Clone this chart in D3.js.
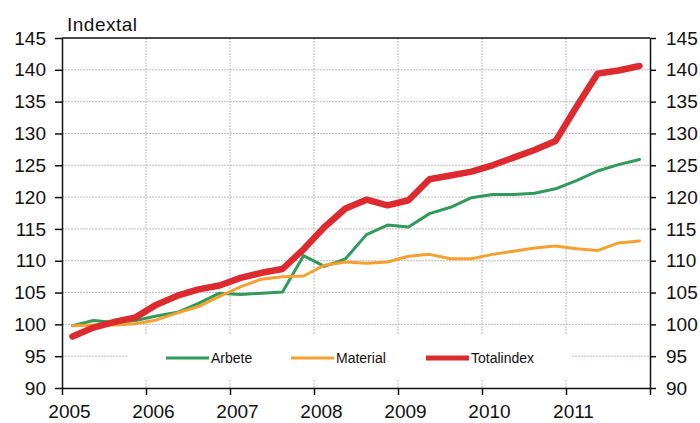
<!DOCTYPE html>
<html>
<head>
<meta charset="utf-8">
<script src="https://cdn.jsdelivr.net/npm/d3@7"></script>
<style>
  body { margin: 0; background: #fff; }
  text { font-family: "Liberation Sans", Arial, sans-serif; fill: #111; }
</style>
</head>
<body>
<div id="chart"></div>
<script>
// quarterly index values 2005Q1 .. 2011Q4
const years = [2005, 2006, 2007, 2008, 2009, 2010, 2011, 2012];
const yTicks = [90, 95, 100, 105, 110, 115, 120, 125, 130, 135, 140, 145];

const arbete = [99.8, 100.6, 100.3, 100.6, 101.3, 101.9, 103.3, 104.9,
                104.7, 104.9, 105.1, 110.8, 109.1, 110.3, 114.1, 115.6,
                115.3, 117.4, 118.4, 119.9, 120.4, 120.4, 120.6, 121.3,
                122.6, 124.1, 125.1, 125.9];
const material = [99.8, 99.9, 99.9, 100.1, 100.7, 101.8, 102.8, 104.4,
                  105.9, 107.1, 107.5, 107.6, 109.3, 109.8, 109.6, 109.8,
                  110.7, 111.0, 110.3, 110.3, 111.0, 111.5, 112.0, 112.3,
                  111.9, 111.6, 112.8, 113.1];
const totalindex = [98.1, 99.5, 100.4, 101.1, 103.1, 104.5, 105.5, 106.1,
                    107.3, 108.1, 108.7, 111.8, 115.3, 118.2, 119.6, 118.7,
                    119.5, 122.8, 123.4, 124.0, 125.0, 126.2, 127.4, 128.8,
                    134.2, 139.4, 139.9, 140.6];

const series = [
    {name: "Arbete", values: arbete, color: "#2f9a5a", width: 3},
    {name: "Material", values: material, color: "#f5a030", width: 3},
    {name: "Totalindex", values: totalindex, color: "#dc2a2e", width: 6.5}
];

const width = 700, height = 423;
const margin = {top: 38, right: 50, bottom: 35, left: 62};

const svg = d3.select("#chart").append("svg")
    .attr("width", width).attr("height", height);

const x = d3.scaleLinear()
    .domain([2005, 2012])
    .range([margin.left, width - margin.right]);
const y = d3.scaleLinear()
    .domain([90, 145])
    .range([height - margin.bottom, margin.top]);

// grid
const grid = svg.append("g");
grid.selectAll(".hg").data(yTicks.slice(1, -1)).enter().append("line")
    .attr("x1", x(2005)).attr("x2", x(2012))
    .attr("y1", d => y(d)).attr("y2", d => y(d))
    .attr("stroke", "#c4b8b8").attr("stroke-width", 1)
    .attr("stroke-dasharray", "2,1");
grid.selectAll(".vg").data(years.slice(1, -1)).enter().append("line")
    .attr("x1", d => x(d)).attr("x2", d => x(d))
    .attr("y1", y(145)).attr("y2", y(90))
    .attr("stroke", "#c4b8b8").attr("stroke-width", 1)
    .attr("stroke-dasharray", "2,1");

// legend background hides grid
svg.append("rect")
    .attr("x", 128).attr("y", 334).attr("width", 444).attr("height", 46)
    .attr("fill", "#fff");

// lines: quarter midpoints
const qx = i => x(2005 + (i + 0.5) / 4);
const line = d3.line().x((d, i) => qx(i)).y(d => y(d));
series.forEach(s => {
    svg.append("path")
        .datum(s.values)
        .attr("fill", "none")
        .attr("stroke", s.color)
        .attr("stroke-width", s.width)
        .attr("stroke-linejoin", "round")
        .attr("stroke-linecap", "round")
        .attr("d", line);
});

// axes
const fmt = d3.format("d");
svg.append("g")
    .attr("transform", `translate(${margin.left},0)`)
    .call(d3.axisLeft(y).tickValues(yTicks).tickFormat(fmt).tickSize(7).tickSizeOuter(0))
    .call(g => g.selectAll("text").style("font-size", "19px").attr("dx", "-6"));
svg.append("g")
    .attr("transform", `translate(${width - margin.right},0)`)
    .call(d3.axisRight(y).tickValues(yTicks).tickFormat(fmt).tickSize(6).tickSizeOuter(0))
    .call(g => g.selectAll("text").style("font-size", "19px").attr("dx", "7"));
svg.append("g")
    .attr("transform", `translate(0,${height - margin.bottom})`)
    .call(d3.axisBottom(x).tickValues(years).tickFormat(fmt).tickSize(7).tickSizeOuter(0))
    .call(g => g.selectAll("text").style("font-size", "19px").attr("dx", "7").attr("dy", "1.05em"))
    .call(g => g.selectAll(".tick").filter(d => d === 2012).select("text").remove());
svg.append("line")
    .attr("x1", x(2005)).attr("x2", x(2012))
    .attr("y1", y(145)).attr("y2", y(145))
    .attr("stroke", "#111").attr("stroke-width", 1.5);
svg.selectAll(".domain, .tick line").attr("stroke", "#111").attr("stroke-width", 1.5);

svg.append("text")
    .attr("x", 67).attr("y", 31)
    .style("font-size", "19px")
    .style("letter-spacing", "0.5px")
    .text("Indextal");

// legend
const legX = [166, 291, 426];
const leg = svg.append("g");
series.forEach((s, i) => {
    leg.append("line")
        .attr("x1", legX[i]).attr("x2", legX[i] + 43)
        .attr("y1", 358).attr("y2", 358)
        .attr("stroke", s.color)
        .attr("stroke-width", s.width === 3 ? 3 : 5);
    leg.append("text")
        .attr("x", legX[i] + 45).attr("y", 363)
        .style("font-size", "14px")
        .text(s.name);
});
</script>
</body>
</html>
